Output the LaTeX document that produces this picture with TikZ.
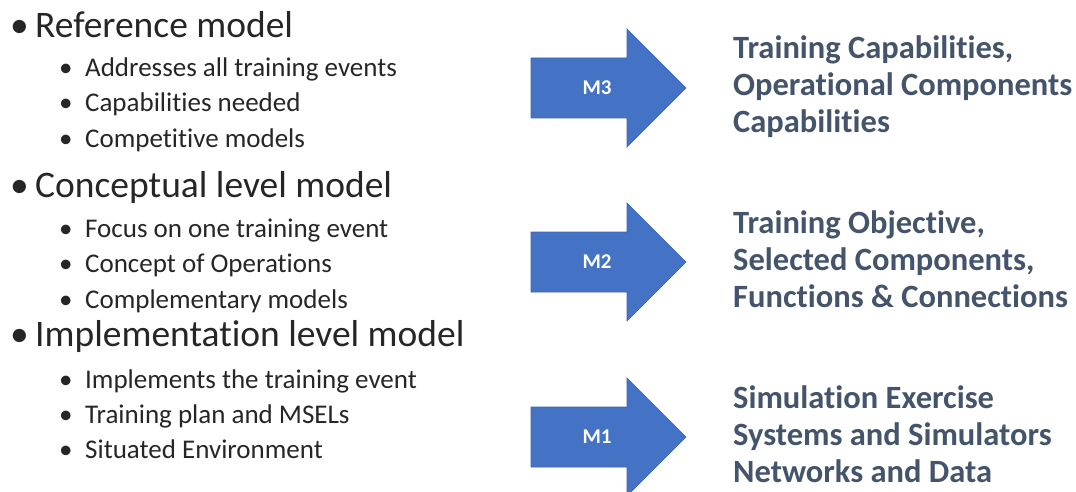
\documentclass[tikz,border=0pt]{standalone}
\usepackage{fontspec}
\setmainfont{Carlito}[Ligatures=NoCommon]
\usepackage{tikz}
\usetikzlibrary{positioning}
\definecolor{arrowblue}{HTML}{4472C4}
\definecolor{arrowedge}{HTML}{3A64B0}
\definecolor{slate}{HTML}{44546A}
\definecolor{bodytext}{HTML}{262626}
\tikzset{%
    mainitem/.style={anchor=base west, inner sep=0pt, text=bodytext,
        font=\fontsize{37.5}{42}\selectfont},
    subitem/.style={anchor=base west, inner sep=0pt, text=bodytext,
        font=\fontsize{27}{32}\selectfont},
    result/.style={anchor=base west, inner sep=0pt, text=slate,
        font=\fontsize{32.5}{37}\selectfont\bfseries, align=left},
    mlabel/.style={inner sep=0pt, text=white, font=\fontsize{21}{24}\selectfont\bfseries}
}
\newcommand{\mainbul}{\makebox[25pt][l]{•}}
\newcommand{\subbul}{\makebox[26pt][l]{•}}

\begin{document}
\begin{tikzpicture}[x=1pt,y=-1pt]
    \useasboundingbox (0,0) rectangle (1076,492);
    % left column
    \node[mainitem] (ref) at (10,38) {\mainbul Reference model};
    \node[subitem] (ref1) at (59,77) {\subbul Addresses all training events};
    \node[subitem] (ref2) at (59,112) {\subbul Capabilities needed};
    \node[subitem] (ref3) at (59,148) {\subbul Competitive models};
    \node[mainitem] (con) at (10,197) {\mainbul Conceptual level model};
    \node[subitem] (con1) at (59,237) {\subbul Focus on one training event};
    \node[subitem] (con2) at (59,272) {\subbul Concept of Operations};
    \node[subitem] (con3) at (59,308) {\subbul Complementary models};
    \node[mainitem] (imp) at (10,346) {\mainbul Implementation level model};
    \node[subitem] (imp1) at (59,388) {\subbul Implements the training event};
    \node[subitem] (imp2) at (59,423) {\subbul Training plan and MSELs};
    \node[subitem] (imp3) at (59,458) {\subbul Situated Environment};
    % arrows
    \foreach \y/\m in {88/M3, 262/M2, 437/M1}
    {
    \filldraw[fill=arrowblue, draw=arrowedge, line width=0.6pt]
        (531,\y-30) -- (627,\y-30) -- (627,\y-59) -- (686,\y)
        -- (627,\y+59) -- (627,\y+30) -- (531,\y+30) -- cycle;
    \node[mlabel] (\m) at (597,\y) {\m};
    }
    % right column (base = last line)
    \node[result] (cap) at (733,133) {Training Capabilities,\\Operational Components\\Capabilities};
    \node[result] (obj) at (733,307) {Training Objective,\\Selected Components,\\Functions \& Connections};
    \node[result] (sim) at (733,482) {Simulation Exercise\\Systems and Simulators\\Networks and Data};
\end{tikzpicture}
\end{document}
